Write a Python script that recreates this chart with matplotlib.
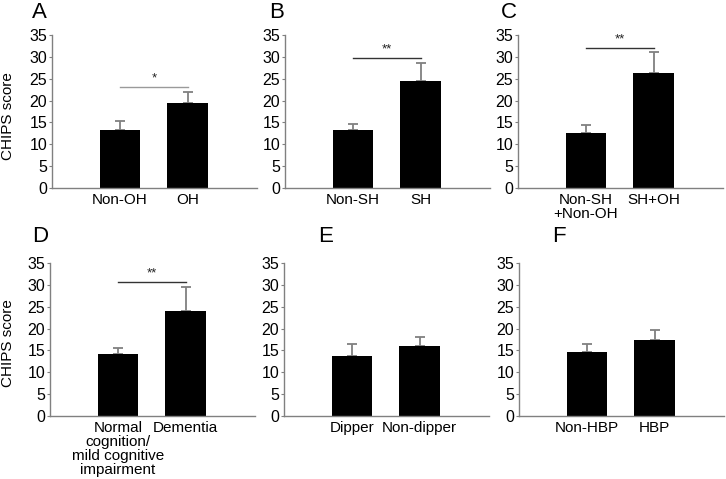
import matplotlib
matplotlib.use("Agg")
import matplotlib.pyplot as plt

plt.rcParams['font.family'] = ['Liberation Sans', 'DejaVu Sans']

panel_letters = ["A", "B", "C", "D", "E", "F"]
categories = [
    ["Non-OH", "OH"],
    ["Non-SH", "SH"],
    ["Non-SH\n+Non-OH", "SH+OH"],
    ["Normal\ncognition/\nmild cognitive\nimpairment", "Dementia"],
    ["Dipper", "Non-dipper"],
    ["Non-HBP", "HBP"],
]
means = [
    [13.3, 19.4],
    [13.3, 24.5],
    [12.5, 26.4],
    [14.1, 24.1],
    [13.6, 16.1],
    [14.6, 17.5],
]
errors = [
    [2.1, 2.6],
    [1.3, 4.0],
    [2.0, 4.6],
    [1.5, 5.5],
    [2.9, 2.0],
    [1.9, 2.1],
]
significance = ["*", "**", "**", "**", None, None]
sig_height = [23.2, 29.7, 32.1, 30.8, None, None]
yticks = [0, 5, 10, 15, 20, 25, 30, 35]
ylabel = "CHIPS score"

W, H = 726, 479
fig = plt.figure(figsize=(W / 100, H / 100), dpi=100)

lefts = [52, 285, 518, 50, 284, 519]
y0s = [188, 188, 188, 415.7, 415.7, 415.7]
ax_w = 205
ax_h = [153, 153, 153, 152.4, 152.4, 152.4]
letter_pos = [(32, 18), (269, 18), (501, 18), (32, 242), (318, 242), (552, 242)]

gray = "#808080"
px2pt = 72 / 100
for i in range(6):
    ax = fig.add_axes([lefts[i] / W, (H - y0s[i]) / H, ax_w / W, ax_h[i] / H])
    x = [0, 1]
    ax.bar(x, means[i], width=0.6, color="black", zorder=2)
    ax.errorbar(x, means[i], yerr=[[0, 0], errors[i]], fmt="none",
                ecolor=gray, elinewidth=1.3, capsize=3.5, capthick=1.3, zorder=1)
    ax.set_xlim(-1.0, 2.02)
    ax.set_ylim(0, 35)
    ax.set_yticks(yticks)
    ax.set_xticks(x)
    ax.set_xticklabels(["", ""])
    ax.tick_params(axis="x", length=0)
    for xi, lab in zip(x, categories[i]):
        for j, line in enumerate(lab.split("\n")):
            ax.annotate(line, xy=(xi, 0), xycoords=("data", "axes fraction"),
                        xytext=(0, -(5 + 14 * j) * px2pt), textcoords="offset points",
                        ha="center", va="top", fontsize=11)
    ax.tick_params(axis="y", length=2.5, width=0.8, color=gray, labelsize=11.5, pad=1)
    for s in ["top", "right"]:
        ax.spines[s].set_visible(False)
    for s in ["left", "bottom"]:
        ax.spines[s].set_color(gray)
        ax.spines[s].set_linewidth(1.0)
    if significance[i]:
        lc = "#9a9a9a" if i == 0 else "#333333"
        ax.plot([0, 1], [sig_height[i], sig_height[i]], color=lc, lw=1.0, clip_on=False)
        ax.text(0.5, sig_height[i] + 0.6, significance[i], ha="center", va="bottom",
                fontsize=9.5, color="#222222")
    lx, ly = letter_pos[i]
    fig.text(lx / W, 1 - ly / H, panel_letters[i], fontsize=16, ha="left", va="baseline")

fig.text(8 / W, 1 - 116 / H, ylabel, rotation=90, fontsize=11, ha="center", va="center")
fig.text(8 / W, 1 - 343 / H, ylabel, rotation=90, fontsize=11, ha="center", va="center")

fig.savefig("out.png", dpi=100)
